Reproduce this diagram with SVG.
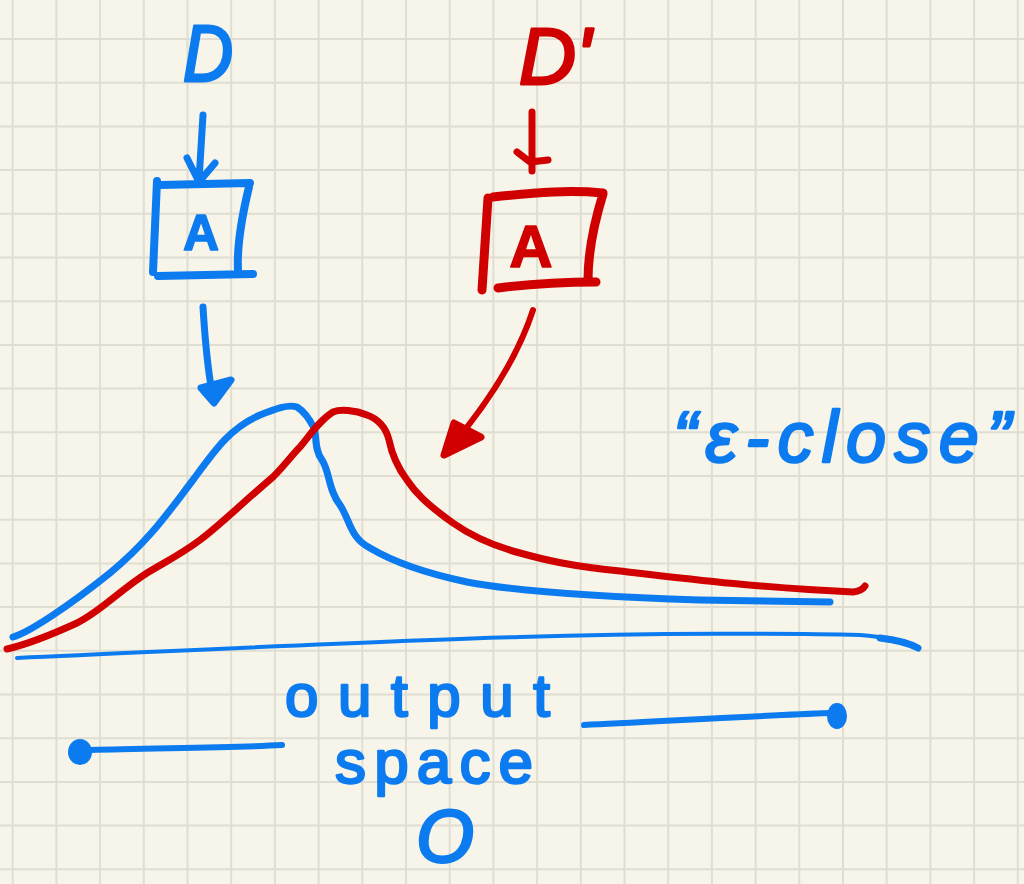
<svg xmlns="http://www.w3.org/2000/svg" width="1024" height="884" viewBox="0 0 1024 884">
<style>
.grid{stroke:#e0ded2;stroke-width:2;fill:none}
.b{stroke:#0c7bf0;fill:none;stroke-linecap:round;stroke-linejoin:round}
.r{stroke:#d10000;fill:none;stroke-linecap:round;stroke-linejoin:round}
.bf{fill:#0c7bf0;stroke:#0c7bf0;stroke-linejoin:round}
.rf{fill:#d10000;stroke:#d10000;stroke-linejoin:round}
.tb{font-family:"Liberation Sans",Arial,sans-serif;fill:#0c7bf0;stroke:#0c7bf0;stroke-linejoin:round}
.tr{font-family:"Liberation Sans",Arial,sans-serif;fill:#d10000;stroke:#d10000;stroke-linejoin:round}
</style>
<rect width="1024" height="884" fill="#f7f5ea"/>
<path class="grid" d="M12.7,0V884M56.4,0V884M100.1,0V884M143.8,0V884M187.5,0V884M231.2,0V884M274.9,0V884M318.6,0V884M362.3,0V884M406,0V884M449.7,0V884M493.4,0V884M537.1,0V884M580.8,0V884M624.5,0V884M668.2,0V884M711.9,0V884M755.6,0V884M799.3,0V884M843,0V884M886.7,0V884M930.4,0V884M974.1,0V884M1017.8,0V884
M0,39H1024M0,82.7H1024M0,126.4H1024M0,170.1H1024M0,213.8H1024M0,257.5H1024M0,301.2H1024M0,344.9H1024M0,388.6H1024M0,432.3H1024M0,476H1024M0,519.7H1024M0,563.4H1024M0,607.1H1024M0,650.8H1024M0,694.5H1024M0,738.2H1024M0,781.9H1024M0,825.6H1024M0,869.3H1024"/>

<g id="node-D">
<text class="tb" x="208" y="81" font-size="80" font-style="italic" stroke-width="3" text-anchor="middle" textLength="50" lengthAdjust="spacingAndGlyphs">D</text>
</g>
<g id="node-A-blue">
<path class="b" stroke-width="8" d="M157,181 L153,272 M160,185 L250,183 M249,187 C241,220 237,250 238,270 M158,276 L253,274"/>
<text class="tb" x="201" y="250" font-size="50" font-weight="bold" stroke-width="1.5" text-anchor="middle">A</text>
</g>
<g id="node-Dprime">
<text class="tr" x="555" y="84" font-size="80" font-style="italic" stroke-width="3" text-anchor="middle" textLength="72" lengthAdjust="spacingAndGlyphs">D'</text>
</g>
<g id="node-A-red">
<path class="r" stroke-width="9" d="M488,198 L482,290 M493,197 C540,192 570,190 603,193 M603,194 C595,220 588,250 588,280 M498,288 C530,284 560,282 596,282"/>
<text class="tr" x="531" y="267" font-size="60" font-weight="bold" stroke-width="1.5" text-anchor="middle">A</text>
</g>

<g id="connectors">
<path class="b" stroke-width="7" d="M203,115 L199,180 M187,158 L199,182 L215,163"/>
<path class="b" stroke-width="7" d="M203,307 C205,340 208,370 212,392"/>
<path class="bf" stroke-width="7" d="M201,388 L214,403 L231,380 Z"/>
<path class="r" stroke-width="7" d="M532,112 L532,171 M517,152 L530,162 L548,160"/>
<path class="r" stroke-width="6" d="M533,310 C520,350 495,395 450,448"/>
<path class="rf" stroke-width="7" d="M454,423 L444,455 L481,437 Z"/>
<path class="b" stroke-width="6" d="M282,745 C230,748 150,748 90,750"/>
<ellipse class="bf" stroke-width="8" cx="80" cy="752" rx="8" ry="9"/>
<path class="b" stroke-width="6" d="M584,725 C650,722 750,716 830,713"/>
<ellipse class="bf" stroke-width="8" cx="837" cy="716" rx="6" ry="9"/>
</g>

<g id="curves">
<path class="b" stroke-width="4" d="M17,658 C200,650 400,640 520,637 C650,633 800,633 860,635 C890,637 905,642 918,648"/>
<path class="b" stroke-width="7" d="M880,638 Q905,641 918,648"/>
<path class="b" stroke-width="7" d="M13,637 C30,632 70,605 110,573 C150,540 170,510 193,480 C215,450 230,428 260,415 C275,409 288,404 297,407 C305,412 310,420 314,428 C317,436 314,450 322,460 C330,472 328,490 340,505 C350,520 350,538 370,548 C390,560 420,572 467,582 C520,592 600,597 700,600 L830,602"/>
<path class="r" stroke-width="7" d="M7,649 C20,646 40,640 77,623 C100,612 120,590 147,573 C165,562 180,555 200,540 C220,525 240,505 273,477 C285,465 292,455 300,447 C310,435 320,420 333,412 C340,409 355,410 367,415 C378,419 386,428 389,440 C392,455 398,468 407,480 C415,492 425,503 453,523 C470,535 490,545 520,553 C545,560 570,566 620,571 C680,578 760,588 853,592 Q862,591 865,586"/>
</g>

<g id="labels">
<text class="tb" x="673" y="462" font-size="72" font-style="italic" stroke-width="2.5" textLength="338" lengthAdjust="spacing">“ε-close”</text>
<text class="tb" x="285" y="716" font-size="60" stroke-width="2.5" textLength="265" lengthAdjust="spacing">output</text>
<text class="tb" x="335" y="783" font-size="62" stroke-width="2.5" textLength="198" lengthAdjust="spacing">space</text>
<text class="tb" x="445" y="862" font-size="74" font-style="italic" stroke-width="3" text-anchor="middle">O</text>
</g>
</svg>
